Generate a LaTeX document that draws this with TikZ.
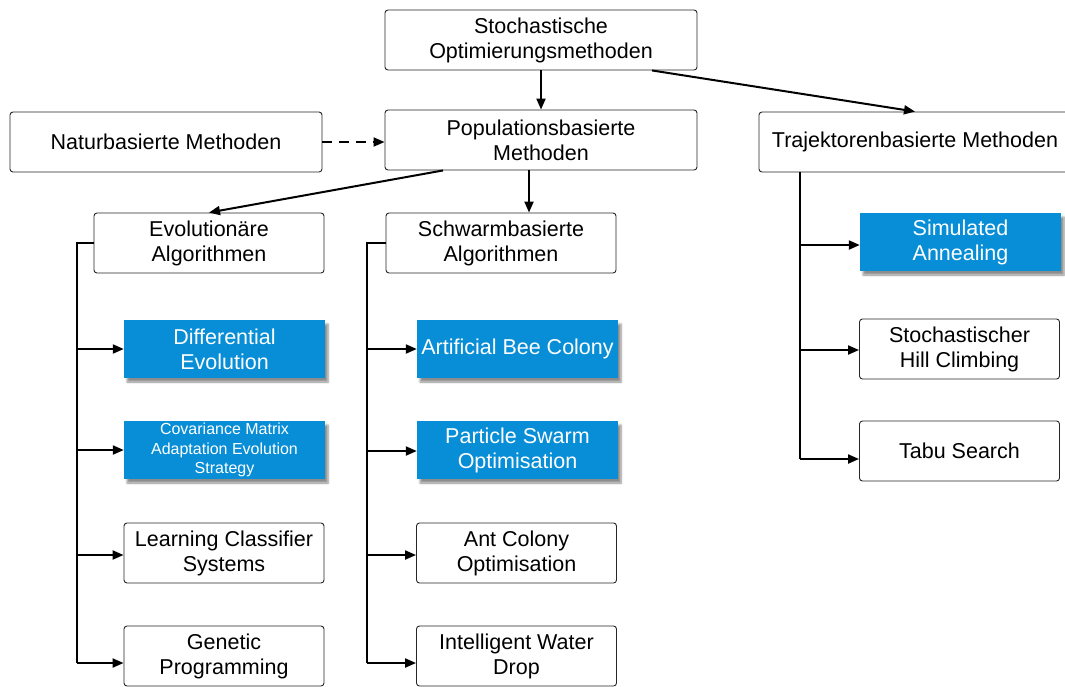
\documentclass[tikz,border=0pt]{standalone}
\usepackage{fontspec}
\setmainfont{Liberation Sans}
\usetikzlibrary{arrows.meta,calc,shadows.blur}
\definecolor{boxblue}{RGB}{8,142,214}
\tikzset{
  plainbox/.style={draw=black!85, line width=0.9pt, rounded corners=3pt, fill=white,
    align=center, inner sep=2pt, font=\fontsize{21.5}{25}\selectfont},
  bluebox/.style={fill=boxblue, text=white, align=center, inner sep=2pt,
    minimum width=201pt, minimum height=58pt, font=\fontsize{21.5}{25}\selectfont,
    blur shadow={shadow xshift=3pt, shadow yshift=-4pt, shadow blur steps=6, shadow opacity=45}},
  wide/.style={minimum width=312pt, minimum height=60pt},
  mid/.style={minimum width=230pt, minimum height=60pt},
  leaf/.style={minimum width=200pt, minimum height=60pt},
  link/.style={line width=2pt, -{Triangle[length=11pt,width=9pt]}},
  trunk/.style={line width=2pt},
}
\begin{document}
\begin{tikzpicture}[x=1pt,y=-1pt]
\useasboundingbox (0,0) rectangle (1065,686);
\clip (0,0) rectangle (1065,686);

% upper levels
\node[plainbox, wide] (top)    at (541,40)  {Stochastische\\Optimierungsmethoden};
\node[plainbox, wide] (pop)    at (541,140) {Populationsbasierte\\Methoden};
\node[plainbox, wide] (natur)  at (166,142) {Naturbasierte Methoden};
\node[plainbox, wide] (traj)   at (915,142) {Trajektorenbasierte Methoden};
\node[plainbox, mid]  (evo)    at (209,243) {Evolutionäre\\Algorithmen};
\node[plainbox, mid]  (swarm)  at (501,243) {Schwarmbasierte\\Algorithmen};

% evolutionary algorithms
\node[bluebox]  (de)   at (224.5,349) {Differential\\Evolution};
\node[bluebox, font=\fontsize{16}{19.5}\selectfont] (cma) at (224.5,450)
  {Covariance Matrix\\Adaptation Evolution\\Strategy};
\node[plainbox, leaf] (lcs)  at (224,553) {Learning Classifier\\Systems};
\node[plainbox, leaf] (gp)   at (224,656) {Genetic\\Programming};

% swarm algorithms
\node[bluebox]  (abc)  at (517.5,349) {Artificial Bee Colony};
\node[bluebox]  (pso)  at (517.5,450) {Particle Swarm\\Optimisation};
\node[plainbox, leaf] (aco)  at (516.5,553) {Ant Colony\\Optimisation};
\node[plainbox, leaf] (iwd)  at (516.5,656) {Intelligent Water\\Drop};

% trajectory methods
\node[bluebox]  (sa)   at (960.5,242) {Simulated\\Annealing};
\node[plainbox, leaf] (shc)  at (959.5,349) {Stochastischer\\Hill Climbing};
\node[plainbox, leaf] (tabu) at (959.5,451) {Tabu Search};

% links between the upper levels
\draw[link] (top.south) -- (pop.north);
\coordinate (topout) at ($(top.south)+(111,0)$);
\draw[link] (topout) -- (traj.north);
\draw[link, dash pattern=on 10pt off 7pt] (natur.east) -- (natur.east -| pop.west);
\coordinate (popleft) at ($(pop.south)+(-98,0)$);
\draw[link] (popleft) -- (evo.north);
\coordinate (popmid) at ($(pop.south)+(-12,0)$);
\draw[link] (popmid) -- (popmid |- swarm.north);

% evolutionary trunk
\coordinate (et) at (77,243);
\coordinate (e1) at (77,349);
\coordinate (e2) at (77,450);
\coordinate (e3) at (77,555);
\coordinate (e4) at (77,663);
\draw[trunk] (evo.west) -- (et) -- (e4);
\draw[link] (e1) -- (e1 -| de.west);
\draw[link] (e2) -- (e2 -| cma.west);
\draw[link] (e3) -- (e3 -| lcs.west);
\draw[link] (e4) -- (e4 -| gp.west);

% swarm trunk
\coordinate (st) at (367,243);
\coordinate (s1) at (367,349);
\coordinate (s2) at (367,451);
\coordinate (s3) at (367,555);
\coordinate (s4) at (367,663);
\draw[trunk] (swarm.west) -- (st) -- (s4);
\draw[link] (s1) -- (s1 -| abc.west);
\draw[link] (s2) -- (s2 -| pso.west);
\draw[link] (s3) -- (s3 -| aco.west);
\draw[link] (s4) -- (s4 -| iwd.west);

% trajectory trunk
\coordinate (tt) at (800,172);
\coordinate (t1) at (800,245);
\coordinate (t2) at (800,350);
\coordinate (t3) at (800,459);
\draw[trunk] (tt) -- (t3);
\draw[link] (t1) -- (t1 -| sa.west);
\draw[link] (t2) -- (t2 -| shc.west);
\draw[link] (t3) -- (t3 -| tabu.west);
\end{tikzpicture}
\end{document}
